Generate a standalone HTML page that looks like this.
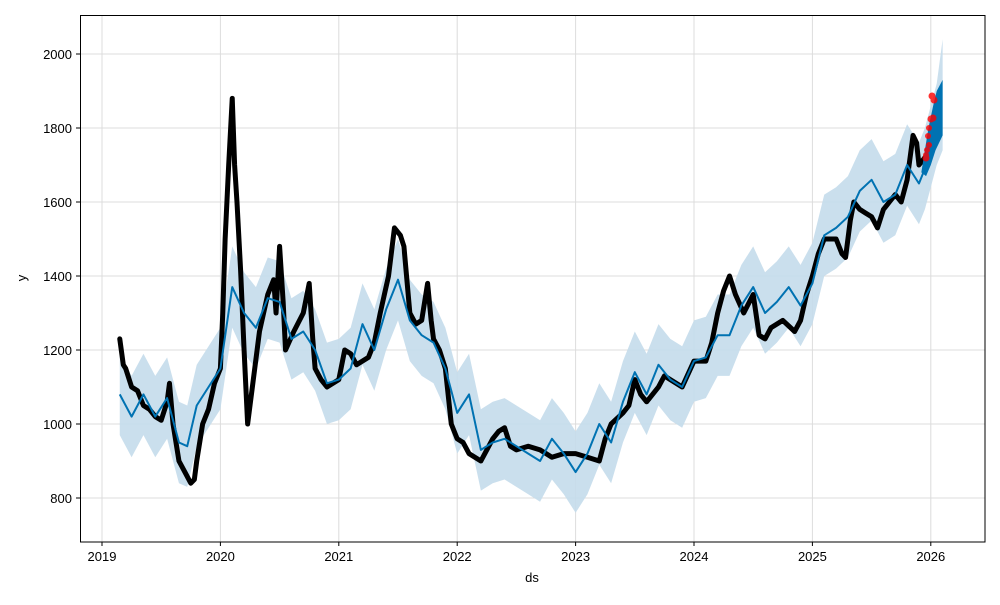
<!DOCTYPE html>
<html><head><meta charset="utf-8"><style>
html,body{margin:0;padding:0;background:#fff}
svg text{font-family:"Liberation Sans","DejaVu Sans",sans-serif;font-size:13px;fill:#000}
</style></head><body>
<svg width="1000" height="600" viewBox="0 0 1000 600" xmlns="http://www.w3.org/2000/svg">
<rect width="1000" height="600" fill="#fff"/>
<defs><clipPath id="c"><rect x="81" y="15" width="904" height="527"/></clipPath></defs>
<g stroke="#dcdcdc" stroke-width="1">
<line x1="102" y1="15" x2="102" y2="542"/><line x1="220.4" y1="15" x2="220.4" y2="542"/><line x1="338.8" y1="15" x2="338.8" y2="542"/><line x1="457.2" y1="15" x2="457.2" y2="542"/><line x1="575.6" y1="15" x2="575.6" y2="542"/><line x1="694" y1="15" x2="694" y2="542"/><line x1="812.4" y1="15" x2="812.4" y2="542"/><line x1="930.8" y1="15" x2="930.8" y2="542"/>
<line x1="81" y1="54" x2="985" y2="54"/><line x1="81" y1="128" x2="985" y2="128"/><line x1="81" y1="202" x2="985" y2="202"/><line x1="81" y1="276" x2="985" y2="276"/><line x1="81" y1="350" x2="985" y2="350"/><line x1="81" y1="424" x2="985" y2="424"/><line x1="81" y1="498" x2="985" y2="498"/>
</g>
<g clip-path="url(#c)">
<g transform="matrix(118.4,0,0,-0.37,102,794)">
<polygon fill="#c4dbeb" opacity="0.9" points="0.15,1190 0.25,1130 0.35,1190 0.45,1130 0.55,1180 0.65,1060 0.72,1050 0.8,1160 0.9,1210 1.0,1260 1.1,1480 1.2,1410 1.3,1370 1.4,1450 1.5,1440 1.6,1340 1.7,1360 1.8,1310 1.9,1220 2.0,1230 2.1,1260 2.2,1380 2.3,1310 2.4,1420 2.5,1500 2.6,1390 2.7,1350 2.8,1330 2.9,1260 3.0,1140 3.1,1190 3.2,1040 3.3,1060 3.4,1070 3.5,1050 3.6,1030 3.7,1010 3.8,1070 3.9,1030 4.0,980 4.1,1030 4.2,1110 4.3,1060 4.4,1170 4.5,1250 4.6,1190 4.7,1270 4.8,1230 4.9,1210 5.0,1280 5.1,1290 5.2,1350 5.3,1350 5.4,1430 5.5,1480 5.6,1410 5.7,1440 5.8,1480 5.9,1430 6.0,1490 6.1,1620 6.2,1640 6.3,1670 6.4,1740 6.5,1770 6.6,1710 6.7,1730 6.8,1810 6.9,1760 6.95,1800 7.0,1860 7.05,1920 7.1,2040 7.1,1740 7.05,1700 7.0,1640 6.95,1580 6.9,1540 6.8,1590 6.7,1510 6.6,1490 6.5,1550 6.4,1520 6.3,1450 6.2,1420 6.1,1400 6.0,1270 5.9,1210 5.8,1260 5.7,1220 5.6,1190 5.5,1260 5.4,1210 5.3,1130 5.2,1130 5.1,1070 5.0,1060 4.9,990 4.8,1010 4.7,1050 4.6,970 4.5,1030 4.4,950 4.3,840 4.2,890 4.1,810 4.0,760 3.9,810 3.8,850 3.7,790 3.6,810 3.5,830 3.4,850 3.3,840 3.2,820 3.1,970 3.0,920 2.9,1040 2.8,1110 2.7,1130 2.6,1170 2.5,1280 2.4,1200 2.3,1090 2.2,1160 2.1,1040 2.0,1010 1.9,1000 1.8,1090 1.7,1140 1.6,1120 1.5,1220 1.4,1230 1.3,1150 1.2,1190 1.1,1260 1.0,1040 0.9,990 0.8,940 0.72,830 0.65,840 0.55,960 0.45,910 0.35,970 0.25,910 0.15,970"/>
<polyline vector-effect="non-scaling-stroke" fill="none" stroke="#000" stroke-width="5" stroke-linejoin="round" stroke-linecap="round"
points="0.15,1230 0.18,1160 0.2,1150 0.25,1100 0.3,1090 0.35,1050 0.4,1040 0.45,1020 0.5,1010 0.55,1060 0.57,1110 0.6,1000 0.65,900 0.7,870 0.75,840 0.78,850 0.8,900 0.83,960 0.85,1000 0.9,1040 0.95,1110 1.0,1150 1.02,1300 1.04,1500 1.07,1700 1.1,1880 1.12,1700 1.14,1600 1.17,1420 1.2,1200 1.23,1000 1.25,1050 1.27,1100 1.33,1250 1.4,1350 1.45,1390 1.47,1300 1.5,1480 1.53,1330 1.55,1200 1.62,1250 1.7,1300 1.75,1380 1.78,1230 1.8,1150 1.85,1120 1.9,1100 2.0,1120 2.05,1200 2.1,1190 2.15,1160 2.25,1180 2.3,1220 2.35,1300 2.42,1400 2.47,1530 2.52,1510 2.55,1480 2.6,1300 2.65,1270 2.7,1280 2.75,1380 2.78,1280 2.8,1230 2.85,1200 2.9,1150 2.95,1000 3.0,960 3.05,950 3.1,920 3.2,900 3.25,930 3.3,960 3.35,980 3.4,990 3.45,940 3.5,930 3.6,940 3.7,930 3.8,910 3.9,920 4.0,920 4.1,910 4.2,900 4.25,960 4.3,1000 4.4,1030 4.45,1050 4.5,1120 4.55,1080 4.6,1060 4.7,1100 4.75,1130 4.8,1120 4.9,1100 5.0,1170 5.1,1170 5.15,1220 5.2,1300 5.25,1360 5.3,1400 5.35,1350 5.42,1300 5.5,1350 5.55,1240 5.6,1230 5.65,1260 5.75,1280 5.85,1250 5.9,1280 5.95,1350 6.0,1400 6.05,1460 6.1,1500 6.2,1500 6.25,1460 6.28,1450 6.32,1550 6.35,1600 6.4,1580 6.45,1570 6.5,1560 6.55,1530 6.6,1580 6.65,1600 6.7,1620 6.75,1600 6.8,1660 6.85,1780 6.88,1760 6.9,1700 6.95,1720"/>
<polyline vector-effect="non-scaling-stroke" fill="none" stroke="#0072b2" stroke-width="2" stroke-linejoin="round"
points="0.15,1080 0.25,1020 0.35,1080 0.45,1020 0.55,1070 0.65,950 0.72,940 0.8,1050 0.9,1100 1.0,1150 1.1,1370 1.2,1300 1.3,1260 1.4,1340 1.5,1330 1.6,1230 1.7,1250 1.8,1200 1.9,1110 2.0,1120 2.1,1150 2.2,1270 2.3,1200 2.4,1310 2.5,1390 2.6,1280 2.7,1240 2.8,1220 2.9,1150 3.0,1030 3.1,1080 3.2,930 3.3,950 3.4,960 3.5,940 3.6,920 3.7,900 3.8,960 3.9,920 4.0,870 4.1,920 4.2,1000 4.3,950 4.4,1060 4.5,1140 4.6,1080 4.7,1160 4.8,1120 4.9,1100 5.0,1170 5.1,1180 5.2,1240 5.3,1240 5.4,1320 5.5,1370 5.6,1300 5.7,1330 5.8,1370 5.9,1320 6.0,1380 6.1,1510 6.2,1530 6.3,1560 6.4,1630 6.5,1660 6.6,1600 6.7,1620 6.8,1700 6.9,1650 6.95,1690"/>
<polygon fill="#0072b2" points="6.92,1680 6.96,1670 7.0,1700 7.04,1740 7.1,1780 7.1,1930 7.05,1900 7.02,1860 6.98,1800 6.94,1720"/>
</g>
<g fill="#ff0000" opacity="0.8">
<circle cx="932" cy="96" r="3.5"/><circle cx="934" cy="100" r="3.5"/><circle cx="931" cy="119" r="3.5"/><circle cx="933" cy="118" r="3.5"/><circle cx="929" cy="128" r="3"/><circle cx="928" cy="136" r="3"/><circle cx="929" cy="145" r="3"/><circle cx="927" cy="150" r="3"/><circle cx="926" cy="158" r="3.5"/><circle cx="926" cy="155" r="3"/>
</g>
</g>
<rect x="80.5" y="15.5" width="904.5" height="526.5" fill="none" stroke="#000" stroke-width="1"/>
<g stroke="#000">
<line x1="102" y1="542" x2="102" y2="546"/><line x1="220.4" y1="542" x2="220.4" y2="546"/><line x1="338.8" y1="542" x2="338.8" y2="546"/><line x1="457.2" y1="542" x2="457.2" y2="546"/><line x1="575.6" y1="542" x2="575.6" y2="546"/><line x1="694" y1="542" x2="694" y2="546"/><line x1="812.4" y1="542" x2="812.4" y2="546"/><line x1="930.8" y1="542" x2="930.8" y2="546"/>
<line x1="76" y1="54" x2="80" y2="54"/><line x1="76" y1="128" x2="80" y2="128"/><line x1="76" y1="202" x2="80" y2="202"/><line x1="76" y1="276" x2="80" y2="276"/><line x1="76" y1="350" x2="80" y2="350"/><line x1="76" y1="424" x2="80" y2="424"/><line x1="76" y1="498" x2="80" y2="498"/>
</g>
<g text-anchor="middle">
<text x="102" y="561">2019</text><text x="220.4" y="561">2020</text><text x="338.8" y="561">2021</text><text x="457.2" y="561">2022</text><text x="575.6" y="561">2023</text><text x="694" y="561">2024</text><text x="812.4" y="561">2025</text><text x="930.8" y="561">2026</text>
<text x="532" y="582">ds</text>
</g>
<g text-anchor="end">
<text x="72" y="59">2000</text><text x="72" y="133">1800</text><text x="72" y="207">1600</text><text x="72" y="281">1400</text><text x="72" y="355">1200</text><text x="72" y="429">1000</text><text x="72" y="503">800</text>
</g>
<text x="26" y="278" text-anchor="middle" transform="rotate(-90 26 278)">y</text>
</svg>
</body></html>
